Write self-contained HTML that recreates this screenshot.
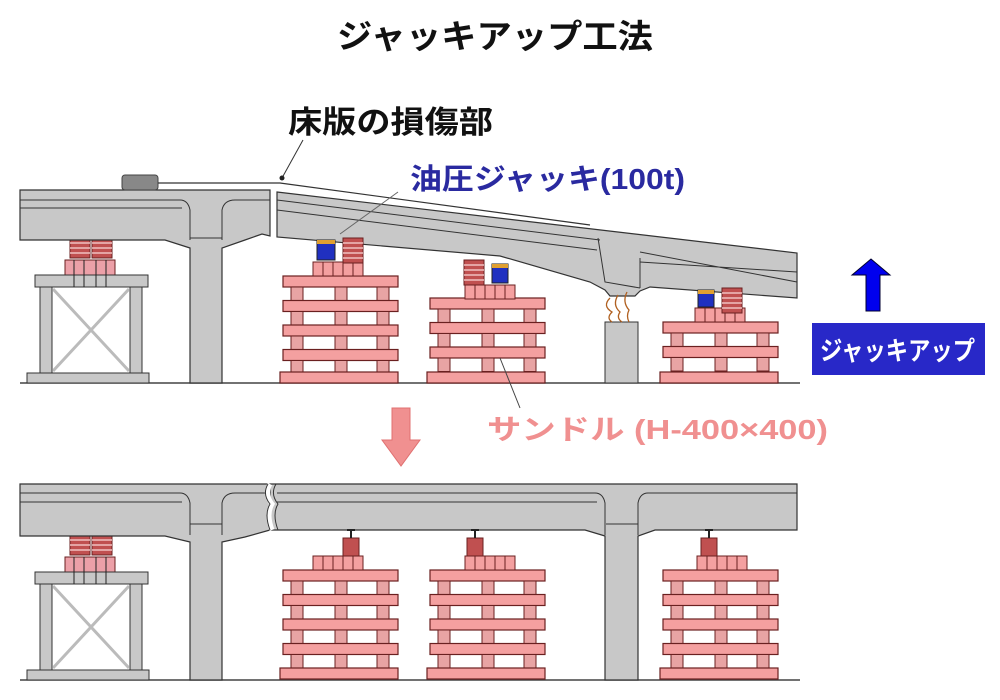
<!DOCTYPE html>
<html><head><meta charset="utf-8"><style>
html,body{margin:0;padding:0;background:#fff;width:1000px;height:700px;overflow:hidden}
svg{display:block}
text{font-family:"Liberation Sans","Noto Sans CJK JP",sans-serif;font-weight:bold}
</style></head><body>
<svg width="1000" height="700" viewBox="0 0 1000 700" xmlns="http://www.w3.org/2000/svg">
<defs>
<g id="tier">
 <rect x="0" y="0" width="115" height="11" fill="#f4a0a0" stroke="#6a2020" stroke-width="1.2"/>
 <rect x="8" y="11" width="12" height="13.5" fill="#e8a4a4" stroke="#6a2020" stroke-width="1"/>
 <rect x="52" y="11" width="12" height="13.5" fill="#e8a4a4" stroke="#6a2020" stroke-width="1"/>
 <rect x="94" y="11" width="12" height="13.5" fill="#e8a4a4" stroke="#6a2020" stroke-width="1"/>
</g>
<g id="base"><rect x="-3" y="0" width="118" height="11" fill="#f4a0a0" stroke="#6a2020" stroke-width="1.2"/></g>
<g id="blk">
 <rect x="0" y="0" width="50" height="14" fill="#f4a0a0" stroke="#6a2020" stroke-width="1"/>
 <path d="M10 0V14M20 0V14M30 0V14M40 0V14" stroke="#6a2020" stroke-width="1"/>
</g>
<g id="stack">
 <rect x="0" y="0" width="20" height="25" fill="#c05050" stroke="#6a2020"/>
 <path d="M0 5H20M0 10H20M0 15H20M0 20H20" stroke="#f0c0c0" stroke-width="1.5"/>
</g>
<g id="bent">
 <use href="#stack" x="70" y="0"/><use href="#stack" x="92" y="0"/>
 <rect x="65" y="27" width="50" height="15" fill="#eca0a8" stroke="#6a2020"/>
 <rect x="35" y="42" width="113" height="12" fill="#c8c8c8" stroke="#333"/>
 <path d="M74 27V54M84 27V54M96 27V54M106 27V54" stroke="#222"/>
 <rect x="40" y="54" width="12" height="86" fill="#c8c8c8" stroke="#333"/>
 <rect x="130" y="54" width="12" height="86" fill="#c8c8c8" stroke="#333"/>
 <path d="M53 56L129 138M129 56L53 138" stroke="#bbb" stroke-width="3"/>
 <rect x="27" y="140" width="122" height="10" fill="#c8c8c8" stroke="#333"/>
</g>
</defs>

<text x="337" y="48" font-size="33" textLength="316" lengthAdjust="spacingAndGlyphs" fill="#111">ジャッキアップ工法</text>

<!-- TOP -->
<line x1="20" y1="383" x2="800" y2="383" stroke="#444" stroke-width="1.5"/>
<use href="#bent" x="0" y="233"/>
<path d="M20 190H270V236L262 234L245 240L222 248V383H190V248L165 240H20Z" fill="#c8c8c8" stroke="#333" stroke-width="1.2"/>
<path d="M20 200H180Q188 200 190 210V240M270 200H235Q224 200 222 210V240M20 208H182M190 238H222" fill="none" stroke="#333"/>
<rect x="122" y="175" width="36" height="15" rx="3" fill="#888" stroke="#444"/>
<path d="M158 183L280 183L590 225" stroke="#333" stroke-width="1.2" fill="none"/>
<!-- tilted deck -->
<path d="M277 192L797 253V298L650 287L640 291L635 296H610L605 290L590 282L500 256L277 237Z" fill="#c8c8c8" stroke="#333" stroke-width="1.2"/>
<path d="M277 200L600 240M277 210L597 250M640 262L797 272M640 252L797 282" fill="none" stroke="#333"/>
<path d="M598 238L605 282L640 288M640 258V288" fill="none" stroke="#333"/>
<path d="M303 140L282 178" stroke="#333"/><circle cx="282" cy="178" r="2.5" fill="#222"/>
<path d="M340 234L398 192" stroke="#666"/>
<!-- cracked pier -->
<rect x="605" y="322" width="33" height="61" fill="#c8c8c8" stroke="#333"/>
<path d="M610 298q-8 8 2 14q-6 6 0 10M618 295q-6 10 2 17q-4 6 2 10M627 292q-5 10 2 18q-3 6 0 12" fill="none" stroke="#b06020" stroke-width="1.3"/>
<!-- sandle 1 -->
<g transform="translate(283,276)"><use href="#tier" y="0"/><use href="#tier" y="24.5"/><use href="#tier" y="49"/><use href="#tier" y="73.5"/><use href="#base" y="96"/></g>
<use href="#blk" x="313" y="262"/>
<rect x="317" y="240" width="18" height="20" fill="#2030c0" stroke="#222"/><rect x="317" y="240" width="18" height="4" fill="#e0a030"/>
<use href="#stack" x="343" y="238"/>
<!-- sandle 2 -->
<g transform="translate(430,298)"><use href="#tier" y="0"/><use href="#tier" y="24.5"/><use href="#tier" y="49"/><use href="#base" y="74"/></g>
<use href="#blk" x="465" y="285"/>
<use href="#stack" x="464" y="260"/>
<rect x="492" y="264" width="16" height="19" fill="#2030c0" stroke="#222"/><rect x="492" y="264" width="16" height="4" fill="#e0a030"/>
<!-- sandle 3 -->
<g transform="translate(663,322)"><use href="#tier" y="0"/><use href="#tier" y="24.5"/><use href="#base" y="50"/></g>
<use href="#blk" x="695" y="308"/>
<rect x="698" y="290" width="16" height="17" fill="#2030c0" stroke="#222"/><rect x="698" y="290" width="16" height="4" fill="#e0a030"/>
<use href="#stack" x="722" y="288" />

<text x="288" y="133" font-size="31" textLength="205" lengthAdjust="spacingAndGlyphs" fill="#111">床版の損傷部</text>
<text x="410" y="189" font-size="29" textLength="275" lengthAdjust="spacingAndGlyphs" fill="#2a2aa0">油圧ジャッキ(100t)</text>
<path d="M500 358L520 408" stroke="#444"/>
<text x="487" y="439" font-size="28" textLength="341" lengthAdjust="spacingAndGlyphs" fill="#f09090">サンドル (H-400×400)</text>

<path d="M866 311V275H852L871 259L890 275H880V311Z" fill="#0000ee" stroke="#000030"/>
<rect x="812" y="323" width="173" height="52" fill="#2828c8"/>
<text x="820" y="360" font-size="26" textLength="155" lengthAdjust="spacingAndGlyphs" fill="#fff">ジャッキアップ</text>

<path d="M392 408H410V440H420L401 466L382 440H392Z" fill="#f09090" stroke="#e07070"/>

<!-- BOTTOM -->
<line x1="20" y1="680" x2="800" y2="680" stroke="#444" stroke-width="1.5"/>
<use href="#bent" x="0" y="530"/>
<path d="M20 484H797V530H655L638 536V680H605V536L585 530H270V484ZM20 484H270V530L245 537L222 542V680H190V542L165 536H20Z" fill="#c8c8c8" stroke="#333" stroke-width="1.2"/>
<path d="M20 493H180Q188 493 190 503V535M270 493H235Q224 493 222 503V535M20 502H182M190 524H222M277 493H595Q603 493 605 503V535M797 493H648Q640 493 638 503V535M277 502H597M606 524H638" fill="none" stroke="#333"/>
<path d="M270 484q-6 10 2 20q-6 10 0 26" stroke="#fff" stroke-width="5" fill="none"/>
<path d="M268 484q-6 10 2 20q-6 10 0 26M276 484q-6 10 2 20q-6 10 0 26" stroke="#333" fill="none"/>
<g transform="translate(283,570)"><use href="#tier" y="0"/><use href="#tier" y="24.5"/><use href="#tier" y="49"/><use href="#tier" y="73.5"/><use href="#base" y="98"/></g>
<g transform="translate(430,570)"><use href="#tier" y="0"/><use href="#tier" y="24.5"/><use href="#tier" y="49"/><use href="#tier" y="73.5"/><use href="#base" y="98"/></g>
<g transform="translate(663,570)"><use href="#tier" y="0"/><use href="#tier" y="24.5"/><use href="#tier" y="49"/><use href="#tier" y="73.5"/><use href="#base" y="98"/></g>
<use href="#blk" x="313" y="556"/><use href="#blk" x="465" y="556"/><use href="#blk" x="697" y="556"/>
<g fill="#c05050" stroke="#6a2020">
<rect x="343" y="538" width="16" height="18"/><rect x="467" y="538" width="16" height="18"/><rect x="701" y="538" width="16" height="18"/>
</g>
<path d="M347 530H355M351 530V538M471 530H479M475 530V538M705 530H713M709 530V538" stroke="#222" stroke-width="2"/>
</svg>
</body></html>
